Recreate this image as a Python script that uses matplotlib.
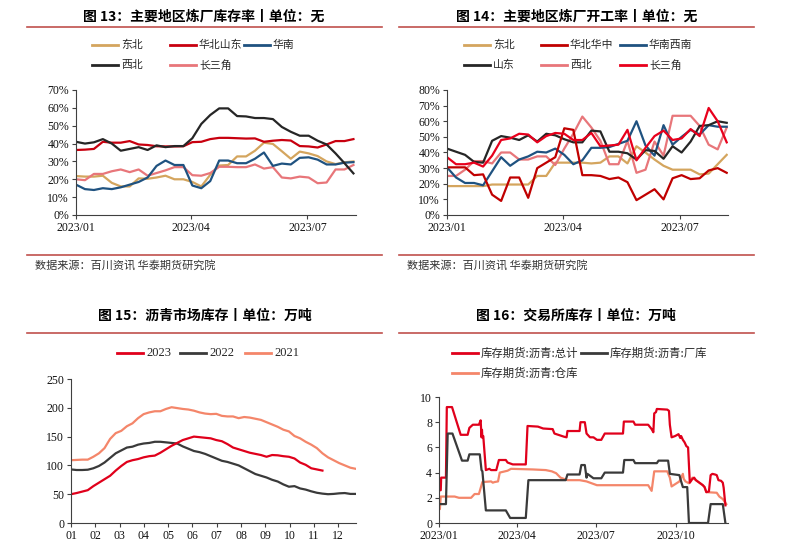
import numpy as np
import pandas as pd
import matplotlib
matplotlib.use("Agg")
import matplotlib.pyplot as plt
import matplotlib.dates as mdates
from matplotlib.lines import Line2D

W, H = 787, 546
CJK = "Noto Sans CJK SC"
SERIF = "Liberation Serif"

# ---------------- data ----------------
# fig 13: refinery inventory rate (%), weekly
weeks_13 = pd.date_range("2023-01-01", periods=32, freq="7D")
inv_dongbei = [21.8, 21.5, 21.5, 22, 18, 16, 16, 20.5, 20.3, 21, 22, 20, 20, 18.5, 16, 22.5,
               27.7, 28, 32.8, 32.8, 36, 40.5, 39.8, 35.7, 31.5, 35.5, 34.5, 33, 30, 28.5, 29.5, 30]
inv_huabei_sd = [36.4, 36.6, 37, 41, 40.5, 40.5, 41.4, 39.5, 39.2, 38.5, 38.4, 38.4, 38.5, 40.8, 41, 42.5,
                 43.2, 43.2, 43, 42.8, 42.9, 41, 41.6, 42, 41.7, 38.6, 38.4, 37.8, 39.5, 41.4, 41.4, 42.5]
inv_huanan = [17, 14.5, 14, 15, 14.5, 15.5, 17, 18.5, 21, 27.5, 30.5, 28, 28, 16.5, 15, 19,
              30.5, 30.5, 29, 29, 31.5, 35, 27.5, 28.8, 28.3, 32, 32.3, 31, 28.3, 28.3, 29.3, 29.6]
inv_xibei = [41, 40, 40.7, 42.5, 40, 36, 37, 38, 36.4, 39, 38, 38.6, 38.6, 43, 51, 56,
             59.7, 59.7, 55.4, 55.2, 54.3, 54.3, 53.7, 49.3, 46.6, 44.4, 44.4, 41.6, 39.5, 34.5, 29, 23.3]
inv_csj = [20, 19.5, 23, 23, 24.5, 25.5, 24, 25.5, 22, 23.5, 25, 26.8, 26.8, 22.3, 22, 23.5,
           27, 27, 26.8, 26.8, 28.3, 26, 26.8, 21, 20.5, 21.5, 21, 17.8, 18.2, 25.5, 25.5, 28]

# fig 14: refinery operating rate (%), weekly
weeks_14 = pd.date_range("2023-01-01", periods=32, freq="7D")
run_dongbei = [18.5, 18.5, 18.5, 18.5, 18.5, 19.5, 19.5, 19.5, 19.5, 19.5, 25, 25, 33.5, 33.5, 33.5, 33.5,
               33, 33.5, 37.5, 37.5, 33, 44, 40, 35.5, 31.5, 29, 29, 29, 26, 26.5, 32.5, 38.5]
run_huabei_hz = [30.5, 30.5, 30.5, 25.5, 26, 13, 9, 24, 24, 11, 30, 33.5, 37, 55.5, 54.5, 25.5,
                 25.5, 25, 23, 24, 21, 9.5, 13, 16.5, 10, 23.5, 25.5, 23, 23.5, 28.5, 30, 27]
run_huanan_xn = [30.5, 24, 20.5, 20.5, 19, 28, 37, 31.5, 35.5, 37.5, 40.5, 40, 42.5, 38.5, 32.5, 35,
                 43, 43, 43.5, 45.5, 47.5, 60, 44.5, 38, 57.5, 45, 50, 54.5, 51.5, 57.5, 56.5, 56.5]
run_shandong = [42.5, 40.5, 38.5, 34, 33.5, 47.5, 50.5, 49.5, 48, 51, 47, 52, 51, 48.5, 46.5, 46.5,
                54, 53.5, 40.5, 40.5, 39.5, 35.5, 41.5, 41, 36, 44, 40, 47, 57, 57.5, 60, 59]
run_xibei = [25, 25, 29, 34.5, 34.5, 33, 40, 40, 35.5, 35.5, 37.5, 37.5, 32, 42.5, 52, 63,
             56, 47.5, 32.5, 32.5, 47.5, 27, 29, 47, 38, 63.5, 63.5, 63.5, 57, 45, 42, 56]
run_csj = [37, 32.5, 32.5, 33.5, 31, 38, 48, 49, 52, 51.5, 46.5, 50.5, 52.5, 52, 48, 48,
           52.5, 44, 44.5, 45, 54.5, 35, 43, 50.5, 54, 48, 49, 55, 50.5, 68.5, 60, 46.5]

# fig 15: asphalt market inventory (10k t), weekly by year
stock_2021 = [109, 109.5, 110, 110, 115, 121, 130, 146, 156, 160, 168, 173, 182, 189, 192, 194, 194, 198,
              201, 199.5, 198, 197, 195, 192, 190, 189, 189.5, 186, 185, 185, 182, 184, 183, 181, 179, 175,
              171, 167, 162, 159, 151, 147, 141, 136, 130, 121, 114, 109, 104, 100, 96, 94]
stock_2022 = [93, 92, 92, 92.5, 95, 99, 105, 113, 121, 126, 131, 132.5, 136, 138, 139, 141, 141, 140,
              139, 138, 133, 129, 125, 123, 120, 116, 112, 108, 106, 103, 100, 95, 90, 85, 82, 79,
              75, 72, 67, 63, 64, 60, 58, 55, 52.5, 51, 50, 50.5, 51.5, 52, 50.5, 50.5]
stock_2023 = [50, 52, 54.5, 57, 64, 70, 76, 82, 91, 99, 106, 109, 111, 114, 116, 117, 122, 128,
              134, 139, 144, 147, 150, 149, 148, 147, 144, 142, 137, 131, 128, 125, 122, 120, 118, 115,
              118, 117.5, 116, 115, 112, 105, 101, 95, 93, 91]
month_labels = ["01", "02", "03", "04", "05", "06", "07", "08", "09", "10", "11", "12"]

# fig 16: exchange inventory (10k t), change points as (day of 2023, value)
total_days = [0, 2, 2.5, 8, 9, 15, 25, 33, 35, 39, 46, 48, 49, 49.5, 50, 51, 54, 58, 60, 66, 69, 77, 79, 85,
              100, 102, 114, 120, 131, 133, 144, 147, 148, 162, 163, 168, 170, 174, 178, 182, 187, 191, 212,
              213, 224, 226, 241, 245, 247, 248, 250, 251, 263, 265, 266, 268, 272, 276, 278, 279, 281, 283,
              285, 287, 289, 292, 294, 296, 300, 304, 306, 308, 311, 313, 315, 318, 320, 322, 325, 327, 328, 330]
total_vals = [2.6, 2.6, 3.6, 3.6, 9.2, 9.2, 7.0, 7.0, 7.55, 7.8, 7.8, 8.15, 6.8, 7.4, 6.8, 6.9, 4.2, 4.3, 4.2,
              4.2, 5.0, 5.0, 4.8, 4.65, 4.65, 7.7, 7.65, 7.5, 7.45, 7.1, 6.85, 6.8, 7.3, 7.3, 8.0, 8.0, 7.1,
              6.8, 6.8, 6.6, 6.6, 7.1, 7.1, 8.05, 8.05, 7.8, 7.8, 7.45, 7.2, 8.7, 8.8, 9.05, 9.0, 8.9, 7.8,
              6.8, 6.9, 7.05, 6.75, 6.9, 6.6, 6.4, 6.1, 6.0, 3.2, 3.5, 3.6, 3.4, 3.2, 3.0, 2.85, 2.45, 2.5,
              3.8, 3.9, 3.85, 3.8, 3.4, 3.35, 3.2, 2.8, 1.4]
factory_days = [0, 8, 10, 15.5, 26.5, 33, 35, 47, 49, 50, 54, 77, 82, 100, 103, 146, 148, 162, 164, 168, 170,
                171, 174, 178, 187, 191, 212, 213.5, 224, 226, 251, 253, 264, 266, 277, 279, 281, 286, 288,
                310, 313, 327, 330]
factory_vals = [1.5, 1.5, 7.1, 7.1, 4.95, 4.95, 5.45, 5.45, 4.2, 4.1, 1.0, 1.0, 0.4, 0.4, 3.4, 3.4, 3.85,
                3.85, 4.6, 4.6, 3.6, 3.9, 3.75, 3.55, 3.55, 4.0, 4.0, 5.0, 5.0, 4.75, 4.75, 4.95, 4.95, 3.9,
                3.8, 3.3, 2.85, 2.85, 0, 0, 1.5, 1.5, 0]
wh_days = [0, 1, 2, 18, 23, 37, 41, 46, 50, 60, 62, 64, 68, 70, 79, 83, 108, 123, 130, 135, 140, 148, 162,
           170, 178, 182, 241, 245, 248, 263, 266, 268, 277, 281, 282, 284, 288, 292, 296, 300, 304, 306,
           308, 320, 323, 327, 331]
wh_vals = [1.15, 1.1, 2.1, 2.1, 2.0, 2.0, 2.3, 2.3, 3.25, 3.3, 3.2, 3.25, 3.3, 4.0, 4.15, 4.3, 4.25, 4.2,
           4.1, 3.95, 3.6, 3.4, 3.4, 3.3, 3.1, 3.0, 3.0, 2.55, 4.1, 4.1, 3.6, 2.9, 3.3, 3.9, 3.5, 3.3,
           3.15, 3.6, 3.4, 3.2, 3.0, 2.85, 2.45, 2.4, 2.1, 1.9, 1.5]

# ---------------- helpers ----------------
ACCENT = "#C0504D"


def fx(x):
    return x / W


def fy(y):
    return 1 - y / H


def make_axes(fig, left, top, right, bottom):
    return fig.add_axes([fx(left), fy(bottom), (right - left) / W, (bottom - top) / H])


def header(fig, cx, ty, text, x0, x1, ly):
    fig.text(fx(cx), fy(ty), text, ha="center", va="center", fontsize=10,
             fontweight="bold", family=[CJK])
    fig.add_artist(Line2D([fx(x0), fx(x1)], [fy(ly), fy(ly)], transform=fig.transFigure,
                          color=ACCENT, lw=1.2))


def footer(fig, x0, x1, ly, tx):
    fig.add_artist(Line2D([fx(x0), fx(x1)], [fy(ly), fy(ly)], transform=fig.transFigure,
                          color=ACCENT, lw=1.2))
    fig.text(fx(tx), fy(ly + 10), "数据来源：百川资讯 华泰期货研究院", ha="left", va="center",
             fontsize=8, color="#333333", family=[CJK])


def legend_row(fig, y, entries, size=7.8, family=CJK):
    for x, color, label in entries:
        fig.add_artist(Line2D([fx(x), fx(x + 26)], [fy(y), fy(y)], transform=fig.transFigure,
                              color=color, lw=2))
        fig.text(fx(x + 29), fy(y), label, ha="left", va="center", fontsize=size,
                 color="#262626", family=[family, CJK])


def style(ax):
    for s in ["top", "right"]:
        ax.spines[s].set_visible(False)
    for s in ["left", "bottom"]:
        ax.spines[s].set_color("#404040")
        ax.spines[s].set_linewidth(0.8)
    ax.tick_params(direction="out", length=3, width=0.8, color="#404040",
                   labelsize=8.5, pad=2, labelcolor="#111111")
    for lab in ax.get_xticklabels() + ax.get_yticklabels():
        lab.set_family(SERIF)


def date_axis(ax, start, end, ticks):
    ax.set_xlim(pd.Timestamp(start), pd.Timestamp(end))
    ax.set_xticks([pd.Timestamp(t) for t in ticks])
    ax.xaxis.set_major_formatter(mdates.DateFormatter("%Y/%m"))


plt.rcParams["font.family"] = [SERIF, CJK]
fig = plt.figure(figsize=(W / 100, H / 100), dpi=100)

# ---------------- fig 13 ----------------
c13 = {"东北": "#D4A55E", "华北山东": "#C8000F", "华南": "#1F5280",
       "西北": "#262626", "长三角": "#E8767A"}
header(fig, 204, 17, "图 13：主要地区炼厂库存率丨单位：无", 27, 382, 27)
legend_row(fig, 45, [(92, c13["东北"], "东北"), (170, c13["华北山东"], "华北山东"), (244, c13["华南"], "华南")])
legend_row(fig, 65, [(92, c13["西北"], "西北"), (170, c13["长三角"], "长三角")])
ax1 = make_axes(fig, 76, 90, 356, 215)
lw = 1.6
ax1.plot(weeks_13, inv_dongbei, color=c13["东北"], lw=lw)
ax1.plot(weeks_13, inv_csj, color=c13["长三角"], lw=lw)
ax1.plot(weeks_13, inv_huanan, color=c13["华南"], lw=lw)
ax1.plot(weeks_13, inv_huabei_sd, color=c13["华北山东"], lw=lw)
ax1.plot(weeks_13, inv_xibei, color=c13["西北"], lw=lw)
ax1.set_ylim(0, 70)
ax1.set_yticks(range(0, 71, 10))
ax1.set_yticklabels([f"{v}%" for v in range(0, 71, 10)])
date_axis(ax1, "2023-01-01", "2023-08-08", ["2023-01-01", "2023-04-01", "2023-07-01"])
style(ax1)
footer(fig, 27, 382, 255, 35)

# ---------------- fig 14 ----------------
c14 = {"东北": "#D4A55E", "华北华中": "#C00000", "华南西南": "#1F5280",
       "山东": "#262626", "西北": "#E8767A", "长三角": "#E8001C"}
header(fig, 577, 17, "图 14：主要地区炼厂开工率丨单位：无", 399, 754, 27)
legend_row(fig, 45, [(464, c14["东北"], "东北"), (541, c14["华北华中"], "华北华中"),
                     (620, c14["华南西南"], "华南西南")])
legend_row(fig, 65, [(464, c14["山东"], "山东"), (541, c14["西北"], "西北"), (620, c14["长三角"], "长三角")])
ax2 = make_axes(fig, 447, 90, 728, 215)
ax2.plot(weeks_14, run_dongbei, color=c14["东北"], lw=lw)
ax2.plot(weeks_14, run_xibei, color=c14["西北"], lw=lw)
ax2.plot(weeks_14, run_huanan_xn, color=c14["华南西南"], lw=lw)
ax2.plot(weeks_14, run_shandong, color=c14["山东"], lw=lw)
ax2.plot(weeks_14, run_huabei_hz, color=c14["华北华中"], lw=lw)
ax2.plot(weeks_14, run_csj, color=c14["长三角"], lw=lw)
ax2.set_ylim(0, 80)
ax2.set_yticks(range(0, 81, 10))
ax2.set_yticklabels([f"{v}%" for v in range(0, 81, 10)])
date_axis(ax2, "2023-01-01", "2023-08-07", ["2023-01-01", "2023-04-01", "2023-07-01"])
style(ax2)
footer(fig, 399, 754, 255, 407)

# ---------------- fig 15 ----------------
c15 = {"2023": "#E0001B", "2022": "#3A3A3A", "2021": "#F4866A"}
header(fig, 205, 316, "图 15：沥青市场库存丨单位：万吨", 27, 382, 333)
legend_row(fig, 353, [(117, c15["2023"], "2023"), (180, c15["2022"], "2022"), (245, c15["2021"], "2021")],
           size=9, family=SERIF)
ax3 = make_axes(fig, 71, 379, 356, 523)
wk = 7 / 30.44
ax3.plot(np.arange(len(stock_2021)) * wk, stock_2021, color=c15["2021"], lw=lw)
ax3.plot(np.arange(len(stock_2022)) * wk, stock_2022, color=c15["2022"], lw=lw)
ax3.plot(np.arange(len(stock_2023)) * wk, stock_2023, color=c15["2023"], lw=lw)
ax3.set_ylim(0, 250)
ax3.set_yticks(range(0, 251, 50))
ax3.set_xlim(0, 11.73)
ax3.set_xticks(range(12))
ax3.set_xticklabels(month_labels)
style(ax3)

# ---------------- fig 16 ----------------
c16 = {"总计": "#E0001B", "厂库": "#3A3A3A", "仓库": "#F4866A"}
header(fig, 576, 316, "图 16：交易所库存丨单位：万吨", 399, 754, 333)
legend_row(fig, 353, [(452, c16["总计"], "库存期货:沥青:总计"), (581, c16["厂库"], "库存期货:沥青:厂库")], size=8.2)
legend_row(fig, 373, [(452, c16["仓库"], "库存期货:沥青:仓库")], size=8.2)
ax4 = make_axes(fig, 439, 397, 728, 523)
base = pd.Timestamp("2023-01-01")


def to_dates(days):
    return base + pd.to_timedelta(np.array(days) * 24, unit="h")


ax4.plot(to_dates(wh_days), wh_vals, color=c16["仓库"], lw=lw)
ax4.plot(to_dates(total_days), total_vals, color=c16["总计"], lw=lw)
ax4.plot(to_dates(factory_days), factory_vals, color=c16["厂库"], lw=lw)
ax4.set_ylim(0, 10)
ax4.set_yticks(range(0, 11, 2))
date_axis(ax4, "2023-01-01", "2023-11-30", ["2023-01-01", "2023-04-01", "2023-07-01", "2023-10-01"])
style(ax4)

fig.savefig("out.png", dpi=100)
